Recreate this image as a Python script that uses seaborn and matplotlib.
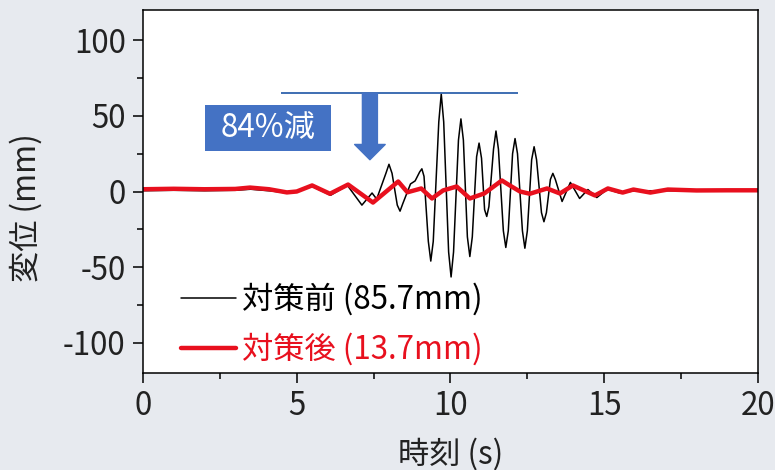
import matplotlib
matplotlib.use('Agg')
import matplotlib.pyplot as plt
import pandas as pd
import seaborn as sns
from matplotlib.patches import Rectangle
from matplotlib.ticker import MultipleLocator

# values (time in s, displacement in mm)
before_t = [0, 1, 2, 3, 3.5, 4.2, 4.7, 5.0, 5.5, 6.1, 6.65, 7.12, 7.45, 7.6,
            7.9, 8.0, 8.1, 8.27, 8.36, 8.45, 8.7, 8.85, 9.0, 9.07, 9.14,
            9.28, 9.36, 9.44, 9.62, 9.7, 9.78, 9.94, 10.02, 10.1,
            10.26, 10.34, 10.42, 10.55, 10.63, 10.71, 10.85, 10.93, 11.01,
            11.11, 11.18, 11.25, 11.4, 11.48, 11.56, 11.72, 11.8, 11.88,
            12.02, 12.1, 12.18, 12.34, 12.42, 12.5, 12.64, 12.72, 12.8,
            12.96, 13.04, 13.12, 13.25, 13.33, 13.41, 13.63, 13.9, 14.2,
            14.47, 14.76, 15.1, 15.5, 16, 17, 18, 20]
before_v = [0.5, 0.8, 0.5, 0.8, 1.5, 0.3, -1, 0, 3.5, -2.5, 4, -9, -1, -5,
            12, 18, 12, -9, -13, -8, 5, 7, 13, 15, 10,
            -33, -46, -33, 46, 64.5, 46, -40, -56.5, -40,
            34, 48, 34, -30, -43, -30, 23, 32, 22,
            -12, -16.5, -10, 28, 40, 28, -26, -37, -26,
            25, 35, 25, -26, -37.5, -26, 21, 29.6, 21,
            -14, -20, -14, 8, 12, 8, -6.6, 6, -4.6,
            1.3, -4, 1.5, -1, 0.5, 0.5, 0.5, 0.5]

after_t = [0, 1, 2, 3, 3.48, 4.1, 4.68, 5.0, 5.5, 6.08, 6.67, 7.48, 8.3, 8.6, 9.05,
           9.4, 9.76, 10.2, 10.63, 11.1, 11.67, 11.93, 12.26, 12.58, 13.14, 13.56,
           13.98, 14.7, 15.12, 15.6, 15.95, 16.5, 17.07, 18, 19, 20]
after_v = [1.5, 1.8, 1.5, 1.7, 2.6, 1.5, -0.6, 0, 4, -1.5, 4.6, -7.3, 6.6, -0.5, 2,
           -4.6, 0.7, 3.3, -4.6, -1.3, 7.3, 4, 0, -1.5, 2, -1.3,
           4, -2.6, 2, -0.7, 1.3, -0.7, 1.3, 0.7, 0.8, 0.8]

labels = ['対策前 (85.7mm)', '対策後 (13.7mm)']
reduction_text = '84%減'
peak_level = 65

sns.set_theme(style='ticks')
plt.rcParams['font.family'] = ['Noto Sans CJK JP', 'DejaVu Sans']
plt.rcParams['axes.unicode_minus'] = False

bg = '#e7eaef'
fs = 22.5
fig = plt.figure(figsize=(7.75, 4.7), dpi=100, facecolor=bg)
ax = fig.add_axes([0.1845, 0.2064, 0.7935, 0.7723])
ax.set_facecolor('white')

df_b = pd.DataFrame({'t': before_t, 'v': before_v})
df_a = pd.DataFrame({'t': after_t, 'v': after_v})
sns.lineplot(data=df_b, x='t', y='v', ax=ax, color='black', linewidth=1.1, label=labels[0])
sns.lineplot(data=df_a, x='t', y='v', ax=ax, color='#e8101e', linewidth=3.2, label=labels[1])

ax.set_xlim(0, 20)
ax.set_ylim(-120, 120)
ax.set_xticks([0, 5, 10, 15, 20])
ax.set_yticks([-100, -50, 0, 50, 100])
ax.xaxis.set_minor_locator(MultipleLocator(2.5))
ax.yaxis.set_minor_locator(MultipleLocator(25))
ax.tick_params(which='major', direction='out', length=7.5, width=1.1, labelsize=fs,
               colors='black', labelcolor='#222222', pad=5)
ax.tick_params(which='minor', direction='out', length=4.5, width=1.1, colors='black')
for s in ax.spines.values():
    s.set_color('black')
    s.set_linewidth(1.1)

ax.set_xlabel('時刻 (s)', fontsize=fs, color='#222222', labelpad=11)
ax.set_ylabel('変位 (mm)', fontsize=fs, color='#222222')
ax.yaxis.set_label_coords(-0.163, 0.455)

# reduction annotation
blue = '#4472c4'
ax.hlines(peak_level, 4.49, 12.2, color='#2f62ad', linewidth=1.3)
ax.annotate('', xy=(7.38, 21), xytext=(7.38, peak_level),
            arrowprops=dict(arrowstyle='simple,head_width=2.2,head_length=1.1,tail_width=1.08',
                            color=blue, mutation_scale=10, shrinkA=0, shrinkB=0))
ax.add_patch(Rectangle((2.02, 27), 4.09, 30.2, facecolor=blue, edgecolor='none', zorder=3))
ax.text(4.07, 42, reduction_text, fontsize=fs, color='white', ha='center', va='center', zorder=4)

leg = ax.legend(loc='lower left', bbox_to_anchor=(0.027, -0.04), frameon=False, fontsize=fs,
                handlelength=1.75, handletextpad=0.2, labelspacing=0.55, borderaxespad=0.3)
for txt, col in zip(leg.get_texts(), ['black', '#e8101e']):
    txt.set_color(col)

fig.savefig('out.png', dpi=100, facecolor=bg)
